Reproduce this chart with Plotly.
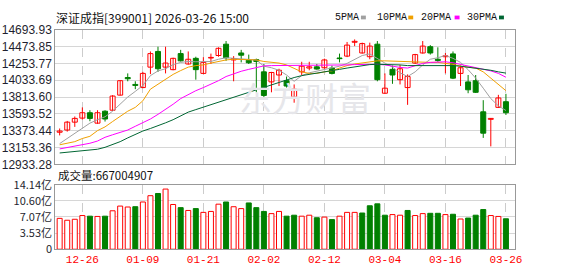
import plotly.graph_objects as go

# ---------------- data ----------------
dates = ["12-23", "12-24", "12-25", "12-26", "12-29", "12-30", "12-31",
         "01-05", "01-06", "01-07", "01-08", "01-09", "01-12", "01-13", "01-14",
         "01-15", "01-16", "01-19", "01-20", "01-21", "01-22", "01-23", "01-26",
         "01-27", "01-28", "01-29", "01-30", "02-02", "02-03", "02-04", "02-05",
         "02-06", "02-09", "02-10", "02-11", "02-12", "02-13", "02-24", "02-25",
         "02-26", "02-27", "03-02", "03-03", "03-04", "03-05", "03-06", "03-09",
         "03-10", "03-11", "03-12", "03-13", "03-16", "03-17", "03-18", "03-19",
         "03-20", "03-23", "03-24", "03-25", "03-26"]

open_ = [13354, 13383, 13486, 13539, 13609, 13473, 13629, 13642, 13839, 14069,
         13979, 13938, 14205, 14410, 14205, 14172, 14382, 14246, 14320, 14123,
         14324, 14357, 14505, 14299, 14390, 14295, 14303, 14143, 14012, 14102,
         14028, 13814, 14143, 14193, 14209, 14197, 14193, 14324, 14349, 14530,
         14390, 14341, 14505, 13864, 14176, 14041, 13938, 14258, 14390, 14472,
         14308, 14341, 14378, 14123, 14012, 14028, 13621, 13523, 13679, 13753]
close = [13370, 13486, 13535, 13609, 13535, 13609, 13527, 13827, 14028, 14053,
         13966, 14123, 14382, 14184, 14258, 14320, 14287, 14308, 14172, 14267,
         14332, 14451, 14328, 14316, 14361, 14262, 14279, 13835, 14135, 14164,
         13958, 13917, 14217, 14209, 14180, 14299, 14123, 14316, 14493, 14542,
         14513, 14480, 14041, 13930, 14102, 14184, 14082, 14369, 14480, 14390,
         14291, 14353, 14061, 14197, 13909, 13876, 13342, 13535, 13802, 13609]
high = [13403, 13502, 13560, 13679, 13642, 13642, 13642, 13839, 14032, 14123,
        14020, 14143, 14410, 14472, 14472, 14328, 14431, 14410, 14341, 14336,
        14382, 14464, 14546, 14349, 14431, 14369, 14316, 14246, 14143, 14184,
        14082, 13979, 14275, 14275, 14246, 14316, 14225, 14382, 14534, 14567,
        14525, 14525, 14546, 14123, 14225, 14234, 14110, 14378, 14546, 14493,
        14464, 14390, 14410, 14225, 14102, 14102, 13773, 13539, 13843, 13856]
low = [13313, 13362, 13424, 13518, 13498, 13465, 13494, 13634, 13835, 14020,
       13917, 13930, 14114, 14143, 14123, 14164, 14279, 14238, 14041, 14114,
       14246, 14341, 14287, 14020, 14267, 14246, 13876, 13814, 13876, 13958,
       13938, 13740, 14102, 14164, 14172, 14184, 14110, 14267, 14336, 14480,
       14382, 14308, 14020, 13856, 13987, 13979, 13712, 14246, 14382, 14369,
       14275, 14123, 14049, 13958, 13864, 13868, 13280, 13169, 13671, 13580]

ma5 = [13206, 13272, 13342, 13403, 13473, 13518, 13556, 13629, 13720, 13814,
       13888, 13966, 14094, 14156, 14184, 14238, 14267, 14279, 14275, 14275,
       14279, 14308, 14328, 14320, 14316, 14308, 14299, 14217, 14197, 14164,
       14102, 14020, 14094, 14131, 14151, 14176, 14193, 14217, 14254, 14308,
       14357, 14378, 14316, 14258, 14205, 14131, 14082, 14143, 14234, 14308,
       14328, 14357, 14320, 14267, 14172, 14061, 13930, 13794, 13699, 13638]
ma10 = [13190, 13206, 13231, 13272, 13301, 13375, 13424, 13494, 13560, 13629,
        13679, 13765, 13917, 13979, 14049, 14110, 14160, 14205, 14225, 14234,
        14258, 14283, 14299, 14308, 14308, 14308, 14299, 14279, 14267, 14258,
        14234, 14184, 14143, 14123, 14123, 14143, 14156, 14193, 14225, 14246,
        14258, 14275, 14287, 14287, 14283, 14275, 14275, 14275, 14267, 14267,
        14267, 14258, 14242, 14217, 14201, 14193, 14143, 14061, 13979, 13897]
ma20 = [13136, 13153, 13169, 13190, 13210, 13239, 13288, 13321, 13354, 13383,
        13432, 13477, 13527, 13588, 13650, 13720, 13794, 13847, 13897, 13938,
        13979, 14028, 14082, 14118, 14151, 14176, 14201, 14221, 14225, 14225,
        14225, 14225, 14225, 14225, 14225, 14230, 14230, 14234, 14234, 14238,
        14242, 14242, 14242, 14234, 14213, 14201, 14193, 14225, 14254, 14267,
        14275, 14275, 14262, 14242, 14221, 14205, 14184, 14156, 14123, 14073]
ma30 = [13083, 13091, 13099, 13107, 13116, 13132, 13157, 13190, 13231, 13280,
        13329, 13370, 13403, 13436, 13477, 13518, 13568, 13617, 13650, 13683,
        13712, 13740, 13773, 13806, 13839, 13872, 13905, 13946, 13979, 14012,
        14041, 14069, 14094, 14110, 14123, 14135, 14151, 14176, 14193, 14209,
        14225, 14238, 14242, 14242, 14238, 14234, 14225, 14225, 14230, 14234,
        14234, 14234, 14225, 14217, 14205, 14193, 14180, 14164, 14143, 14127]

volume = [6.76, 6.35, 6.56, 7.38, 7.24, 7.18, 7.24, 8.42, 9.45, 9.25,
          9.32, 10.35, 11.73, 12.21, 13.18, 9.80, 9.11, 8.49, 8.90, 8.07,
          8.28, 9.87, 10.35, 9.31, 8.90, 10.14, 9.11, 8.28, 7.80, 8.28,
          7.24, 7.45, 7.24, 7.45, 6.90, 7.04, 6.49, 7.24, 8.07, 8.07,
          7.93, 9.52, 9.94, 7.45, 7.59, 7.45, 8.49, 7.38, 7.80, 7.87,
          7.87, 7.59, 7.66, 6.62, 6.83, 7.45, 8.69, 7.38, 7.18, 6.67]
vol_dir = ["R", "R", "R", "R", "G", "R", "G", "R", "R", "R",
           "G", "R", "R", "G", "R", "R", "G", "R", "G", "R",
           "R", "R", "G", "R", "R", "G", "G", "G", "R", "R",
           "G", "G", "R", "R", "G", "R", "G", "R", "R", "R",
           "G", "G", "G", "G", "R", "R", "G", "R", "R", "G",
           "G", "R", "G", "R", "G", "G", "G", "R", "R", "G"]

price_ticks = [12933.28, 13153.36, 13373.44, 13593.52, 13813.60,
               14033.69, 14253.77, 14473.85, 14693.93]
price_tick_text = ["12933.28", "13153.36", "13373.44", "13593.52", "13813.60",
                   "14033.69", "14253.77", "14473.85", "14693.93"]
vol_ticks = [0, 3.535, 7.07, 10.605, 14.14]
vol_tick_text = ["0", "3.53亿", "7.07亿", "10.60亿", "14.14亿"]
tick_dates = ["12-26", "01-09", "01-21", "02-02", "02-12", "03-04", "03-16", "03-26"]

title_text = "深证成指[399001] 2026-03-26 15:00"
vol_title = "成交量:667004907"
ma_names = ["5PMA", "10PMA", "20PMA", "30PMA"]

# ---------------- style ----------------
RED = "#ff0000"
GREEN = "#008000"
MA_COLORS = ["#a0a0a0", "#f0a000", "#ff00ff", "#006633"]
W, H = 578, 276
X0, X1 = 56, 522
MAIN_T, MAIN_B = 22, 165
VOL_T, VOL_B = 186.5, 255
NUM_FONT = "Liberation Sans, Arial, sans-serif"
CJK_FONT = "Noto Sans CJK SC, Liberation Sans, sans-serif"

idx = list(range(len(dates)))
tick_idx = [dates.index(d) for d in tick_dates]

fig = go.Figure()

# wicks
for col, is_up in ((RED, True), (GREEN, False)):
    xs, ys = [], []
    for i in idx:
        if (close[i] >= open_[i]) == is_up:
            xs += [i, i, None]
            ys += [low[i], high[i], None]
    fig.add_trace(go.Scatter(x=xs, y=ys, mode="lines", line=dict(color=col, width=1),
                             hoverinfo="skip", xaxis="x", yaxis="y"))

# bodies
for col, fill, is_up in ((RED, "#ffffff", True), (GREEN, GREEN, False)):
    xs = [i for i in idx if (close[i] >= open_[i]) == is_up]
    base = [min(open_[i], close[i]) for i in xs]
    hgt = [max(abs(close[i] - open_[i]), 4) for i in xs]
    fig.add_trace(go.Bar(x=xs, y=hgt, base=base, width=0.66,
                         marker=dict(color=fill, line=dict(color=col, width=1)),
                         xaxis="x", yaxis="y"))

# moving averages
for ma, col in zip([ma5, ma10, ma20, ma30], MA_COLORS):
    fig.add_trace(go.Scatter(x=idx, y=ma, mode="lines", line=dict(color=col, width=1),
                             xaxis="x", yaxis="y"))

# volume
for col, fill, d in ((RED, "#ffffff", "R"), (GREEN, GREEN, "G")):
    xs = [i for i in idx if vol_dir[i] == d]
    fig.add_trace(go.Bar(x=xs, y=[volume[i] for i in xs], width=0.66,
                         marker=dict(color=fill, line=dict(color=col, width=1)),
                         xaxis="x2", yaxis="y2"))

xr = [(X0 - 60.5) / 7.67, (X1 - 60.5) / 7.67]
common_x = dict(domain=[X0 / W, X1 / W], range=xr, tickvals=tick_idx,
                showgrid=True, gridcolor="#cccccc", griddash="dash", gridwidth=1,
                zeroline=False, showline=True, linecolor="#999999", linewidth=1,
                mirror=True, ticks="", fixedrange=True)
common_y = dict(showgrid=True, gridcolor="#d6d6d6", gridwidth=1, zeroline=False,
                showline=True, linecolor="#999999", linewidth=1, mirror=True,
                ticks="", fixedrange=True)

fig.update_layout(
    width=W, height=H, margin=dict(l=0, r=0, t=0, b=0),
    paper_bgcolor="white", plot_bgcolor="white", showlegend=False,
    barmode="overlay",
    xaxis=dict(common_x, anchor="y", showticklabels=False),
    yaxis=dict(common_y, domain=[(H - MAIN_B) / H, (H - MAIN_T) / H],
               range=[price_ticks[0], price_ticks[-1]], tickvals=price_ticks,
               ticktext=price_tick_text, tickfont=dict(family=NUM_FONT, size=12, color="#1f1f2f")),
    xaxis2=dict(common_x, anchor="y2", showticklabels=True, ticktext=tick_dates,
                tickfont=dict(family="Liberation Mono, monospace", size=11, color=RED)),
    yaxis2=dict(common_y, domain=[(H - VOL_B) / H, (H - VOL_T) / H],
                range=[vol_ticks[0], vol_ticks[-1]], tickvals=vol_ticks,
                ticktext=vol_tick_text, tickfont=dict(family=CJK_FONT, size=11, color="#1f1f2f")),
)

annotations = [
    dict(text="东方财富", x=309 / W, y=1 - 93 / H, xref="paper", yref="paper",
         showarrow=False, font=dict(family=CJK_FONT, size=33, color="#e6e6ea"),
         xanchor="center", yanchor="middle"),
    dict(text=title_text, x=55 / W, y=1 - 8.5 / H, xref="paper", yref="paper",
         showarrow=False, font=dict(family=CJK_FONT, size=12, color="#111111"),
         xanchor="left", yanchor="middle"),
    dict(text=vol_title, x=57 / W, y=1 - 176.5 / H, xref="paper", yref="paper",
         showarrow=False, font=dict(family=CJK_FONT, size=11.5, color="#111111"),
         xanchor="left", yanchor="middle"),
]
legend_x = [338, 380, 425, 472]
square_x = [366, 414, 461, 506]
shapes = []
for name, lx, sx, col in zip(ma_names, legend_x, square_x, MA_COLORS):
    annotations.append(dict(text=name, x=lx / W, y=1 - 8.5 / H, xref="paper", yref="paper",
                            showarrow=False, font=dict(family="Liberation Mono, monospace", size=10, color="#111111"),
                            xanchor="left", yanchor="middle"))
    shapes.append(dict(type="rect", xref="paper", yref="paper", x0=sx / W, x1=(sx + 5) / W,
                       y0=1 - 11 / H, y1=1 - 7 / H, fillcolor=col, line=dict(width=0)))
fig.update_layout(annotations=annotations, shapes=shapes)

fig.write_html("out.html")
